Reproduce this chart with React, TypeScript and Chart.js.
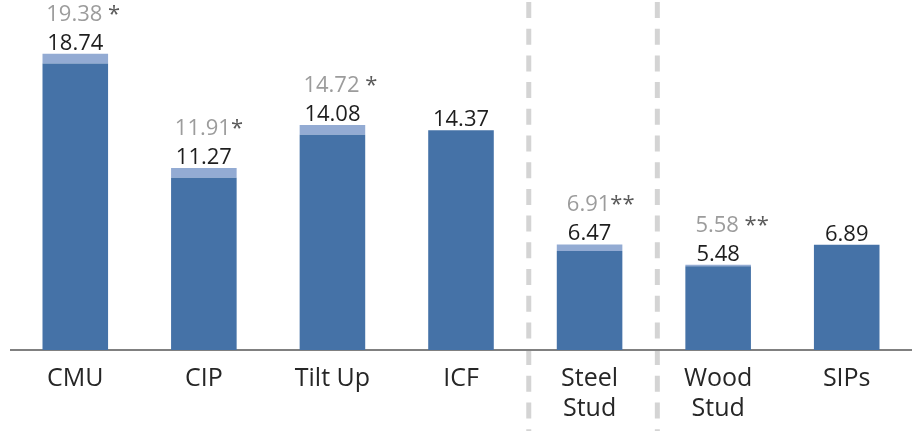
import React, { useEffect, useRef } from "react";
import { Chart, registerables } from "chart.js";

Chart.register(...registerables);

// ---- data ----
const categories: (string | string[])[] = ["CMU", "CIP", "Tilt Up", "ICF", ["Steel", "Stud"], ["Wood", "Stud"], "SIPs"];
const baseValues: number[] = [18.74, 11.27, 14.08, 14.37, 6.47, 5.48, 6.89];
const adjustedValues: (number | null)[] = [19.38, 11.91, 14.72, null, 6.91, 5.58, null];
const adjustedNotes: string[] = [" *", "*", " *", "", "**", " **", ""];
// dashed separators, in category units along the x axis
const dividerPositions: number[] = [3.527, 4.527];

const FONT = '"Open Sans", "Noto Sans", sans-serif';

const capValues = adjustedValues.map((v, i) => (v == null ? null : +(v - baseValues[i]).toFixed(2)));

const overlayPlugin = {
  id: "overlay",
  beforeDraw(chart: any) {
    const ctx = chart.ctx;
    const xs = chart.scales.x;
    ctx.save();
    ctx.strokeStyle = "#d4d4d4";
    ctx.lineWidth = 5;
    ctx.setLineDash([16, 10.7]);
    dividerPositions.forEach((p) => {
      const px = xs.getPixelForValue(p);
      ctx.beginPath();
      ctx.moveTo(px, 2);
      ctx.lineTo(px, chart.height);
      ctx.stroke();
    });
    ctx.restore();
  },
  afterDatasetsDraw(chart: any) {
    const ctx = chart.ctx;
    const ys = chart.scales.y;
    const meta = chart.getDatasetMeta(0);
    ctx.save();
    ctx.font = `22px ${FONT}`;
    ctx.textBaseline = "alphabetic";
    baseValues.forEach((v, i) => {
      const bar = meta.data[i];
      const cx = bar.x;
      const adj = adjustedValues[i];
      const total = adj == null ? v : adj;
      const top = ys.getPixelForValue(total);
      ctx.textAlign = "center";
      ctx.fillStyle = "#1e1e1e";
      ctx.fillText(v.toFixed(2), cx, top - 4);
      if (adj != null) {
        const t = adj.toFixed(2);
        const w = ctx.measureText(t).width;
        ctx.fillStyle = "#9c9c9c";
        ctx.fillText(t, cx - 1, top - 33);
        ctx.textAlign = "left";
        ctx.fillStyle = "#5a5a5a";
        ctx.fillText(adjustedNotes[i], cx - 1 + w / 2, top - 33);
      }
    });
    ctx.restore();
  },
};

export default function App() {
  const ref = useRef<HTMLCanvasElement | null>(null);
  useEffect(() => {
    if (!ref.current) return;
    const chart = new Chart(ref.current, {
      type: "bar",
      data: {
        labels: categories,
        datasets: [
          {
            label: "base",
            data: baseValues,
            backgroundColor: "#4572a7",
            barPercentage: 0.51,
            categoryPercentage: 1,
            stack: "s",
          },
          {
            label: "adjusted",
            data: capValues,
            backgroundColor: "#93abd3",
            barPercentage: 0.51,
            categoryPercentage: 1,
            stack: "s",
          },
        ],
      },
      options: {
        animation: false,
        responsive: false,
        layout: { padding: { top: 29, left: 11, right: 3, bottom: 0 } },
        plugins: { legend: { display: false }, tooltip: { enabled: false } },
        scales: {
          x: {
            stacked: true,
            afterFit: (scale: any) => {
              scale.height = 81;
            },
            grid: { display: true, color: "rgba(0,0,0,0)", drawOnChartArea: false, drawTicks: false },
            border: { display: true, color: "#808080", width: 2 },
            ticks: {
              color: "#262626",
              padding: 14,
              autoSkip: false,
              maxRotation: 0,
              font: { family: FONT, size: 25, lineHeight: 1.2 },
            },
          },
          y: {
            stacked: true,
            display: false,
            min: 0,
            max: 21,
          },
        },
      },
      plugins: [overlayPlugin],
    });
    return () => chart.destroy();
  }, []);
  return (
    <canvas
      ref={ref}
      width={914}
      height={431}
      style={{ position: "fixed", left: 0, top: 0, width: 914, height: 431, display: "block" }}
    />
  );
}
